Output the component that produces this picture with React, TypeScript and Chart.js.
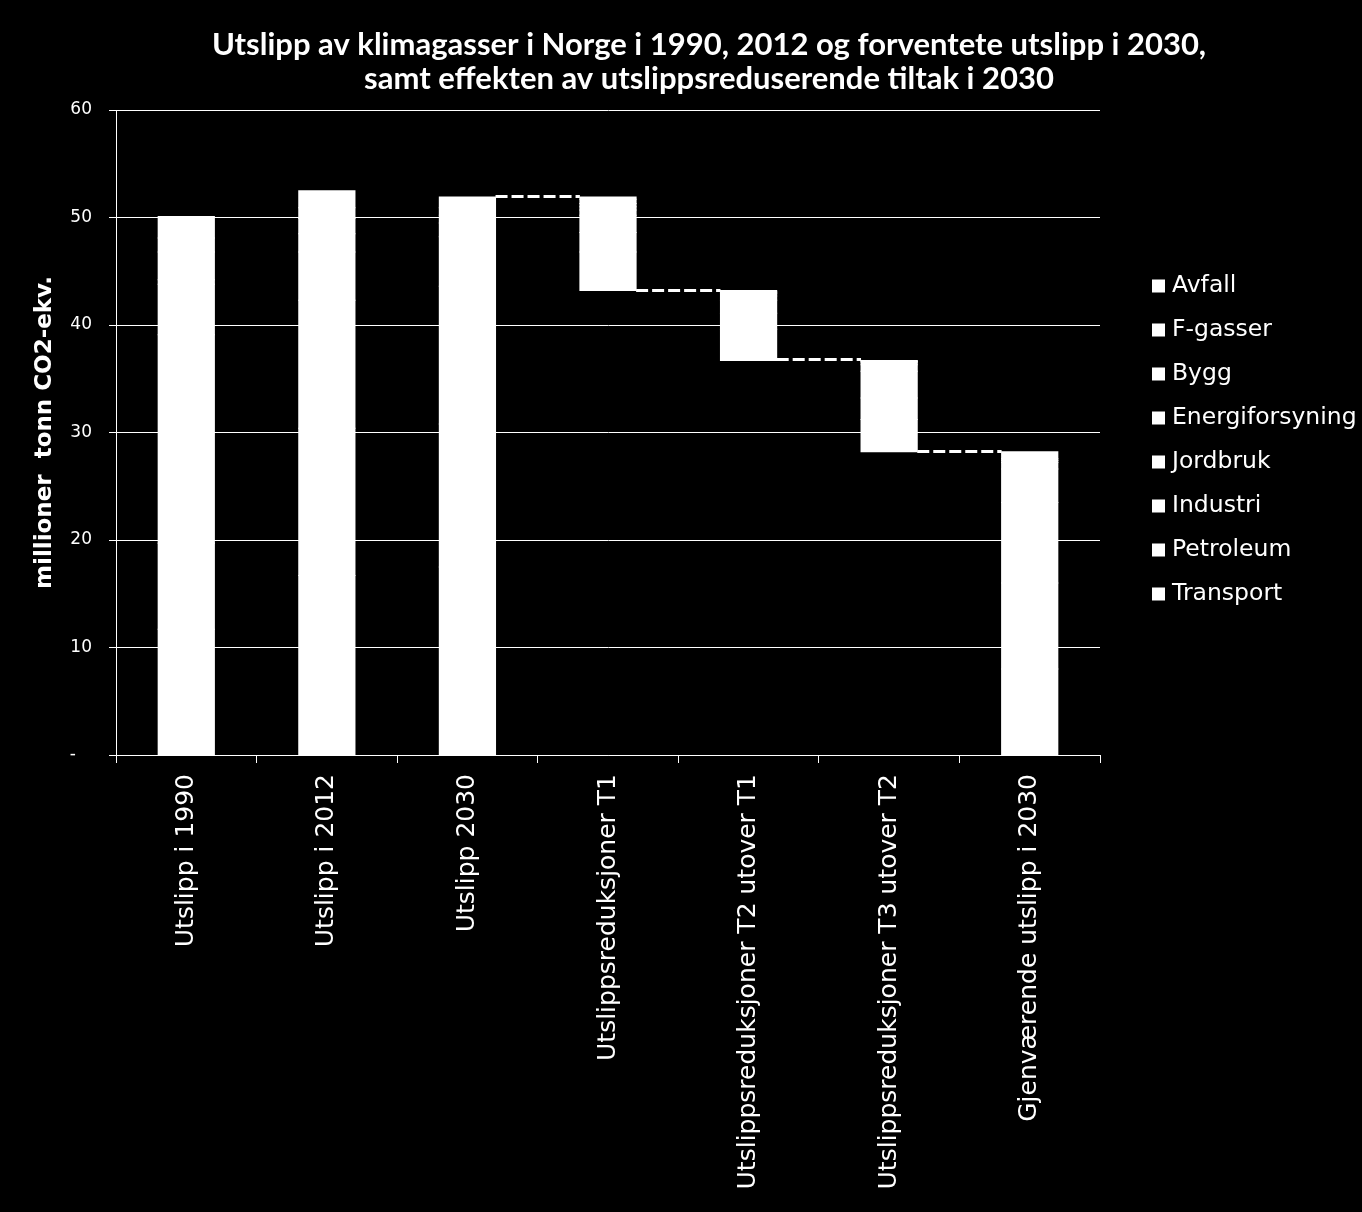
import React, { useEffect, useRef } from 'react';
import { Chart, registerables } from 'chart.js';

Chart.register(...registerables);

const titleLines = [
  'Utslipp av klimagasser i Norge i 1990, 2012 og forventete utslipp i 2030,',
  'samt effekten av utslippsreduserende tiltak i 2030',
];
const yAxisTitle = 'millioner  tonn CO2-ekv.';

const categories = [
  'Utslipp i 1990',
  'Utslipp i 2012',
  'Utslipp 2030',
  'Utslippsreduksjoner T1',
  'Utslippsreduksjoner T2 utover T1',
  'Utslippsreduksjoner T3 utover T2',
  'Gjenværende utslipp i 2030',
];

// invisible base for the floating waterfall steps
const baseValues = [0, 0, 0, 43.2, 36.7, 28.2, 0];

// sector series (stacked, bottom to top)
const transport = [11.7, 16.7, 17.5, 3.6, 2.9, 3.0, 8.0];
const petroleum = [8.0, 13.7, 13.3, 1.8, 1.5, 2.0, 8.0];
const industri = [19.4, 11.9, 12.8, 1.6, 1.2, 2.5, 7.5];
const jordbruk = [4.7, 4.5, 4.6, 0.5, 0.4, 0.6, 3.1];
const energiforsyning = [0.4, 1.7, 1.3, 0.3, 0.2, 0.2, 0.6];
const bygg = [2.6, 1.4, 0.7, 0.3, 0.1, 0.1, 0.2];
const fgasser = [1.3, 1.0, 0.7, 0.4, 0.1, 0.05, 0.15];
const avfall = [2.0, 1.6, 1.0, 0.2, 0.1, 0.05, 0.65];

const seriesLabels = ['Transport', 'Petroleum', 'Industri', 'Jordbruk', 'Energiforsyning', 'Bygg', 'F-gasser', 'Avfall'];
const seriesValues = [transport, petroleum, industri, jordbruk, energiforsyning, bygg, fgasser, avfall];

// dashed connector level from bar i to bar i+1
const connectorLevels: (number | null)[] = [null, null, 51.9, 43.2, 36.7, 28.2, null];

const yMin = 0;
const yMax = 60;
const yStep = 10;
const zeroTickLabel = '-   ';

const W = 1362;
const H = 1212;

export default function App() {
  const ref = useRef<HTMLCanvasElement | null>(null);

  useEffect(() => {
    if (!ref.current) return;
    Chart.defaults.font.family = "'DejaVu Sans', sans-serif";

    const bgPlugin = {
      id: 'bg',
      beforeDraw(chart: any) {
        const ctx = chart.ctx;
        ctx.save();
        ctx.fillStyle = '#000';
        ctx.fillRect(0, 0, chart.width, chart.height);
        ctx.restore();
      },
    };

    const connectorPlugin = {
      id: 'connectors',
      afterDatasetsDraw(chart: any) {
        const ctx = chart.ctx;
        const meta = chart.getDatasetMeta(0);
        const ys = chart.scales.y;
        ctx.save();
        ctx.strokeStyle = '#fff';
        ctx.lineWidth = 3;
        ctx.setLineDash([12, 4]);
        connectorLevels.forEach((lvl, i) => {
          if (lvl == null) return;
          const a: any = meta.data[i];
          const b: any = meta.data[i + 1];
          if (!a || !b) return;
          const x1 = a.x + a.width / 2;
          const x2 = b.x - b.width / 2;
          const py = Math.round(ys.getPixelForValue(lvl)) - 0.5;
          ctx.beginPath();
          ctx.moveTo(x1, py);
          ctx.lineTo(x2, py);
          ctx.stroke();
        });
        ctx.restore();
      },
    };

    const titlePlugin = {
      id: 'customTitle',
      afterDraw(chart: any) {
        const ctx = chart.ctx;
        ctx.save();
        ctx.fillStyle = '#fff';
        ctx.font = "bold 31px Lato, 'DejaVu Sans', sans-serif";
        ctx.textAlign = 'center';
        ctx.textBaseline = 'alphabetic';
        ctx.fillText(titleLines[0], 709, 55);
        ctx.fillText(titleLines[1], 709, 89);
        ctx.restore();
      },
    };

    const legendPlugin = {
      id: 'customLegend',
      afterDraw(chart: any) {
        const ctx = chart.ctx;
        const ds = chart.data.datasets.slice(1).reverse();
        ctx.save();
        ctx.font = "23.5px 'DejaVu Sans', sans-serif";
        ctx.textAlign = 'left';
        ctx.textBaseline = 'middle';
        ds.forEach((d: any, i: number) => {
          const cy = 286 + i * 44;
          ctx.fillStyle = d.backgroundColor;
          ctx.fillRect(1152, cy - 6.5, 13, 13);
          ctx.fillStyle = '#fff';
          ctx.fillText(d.label, 1172, cy);
        });
        ctx.restore();
      },
    };

    const datasets: any[] = [
      {
        label: 'base',
        data: baseValues,
        backgroundColor: 'rgba(0,0,0,0)',
        borderWidth: 0,
        stack: 's',
      },
      ...seriesLabels.map((lab, i) => ({
        label: lab,
        data: seriesValues[i],
        backgroundColor: '#ffffff',
        borderWidth: 0,
        inflateAmount: 0.5,
        stack: 's',
      })),
    ];

    const chart = new Chart(ref.current, {
      type: 'bar',
      data: { labels: categories, datasets },
      options: {
        responsive: false,
        animation: false,
        devicePixelRatio: 1,
        layout: { padding: { top: 110, right: 262, left: 0, bottom: 0 } },
        datasets: { bar: { categoryPercentage: 1, barPercentage: 0.4 } },
        plugins: {
          legend: { display: false },
          title: { display: false },
          tooltip: { enabled: false },
        },
        scales: {
          x: {
            stacked: true,
            grid: {
              display: true,
              drawOnChartArea: false,
              drawTicks: true,
              offset: true,
              tickLength: 8,
              color: '#ffffff',
            },
            border: { display: true, color: '#ffffff', width: 1 },
            ticks: {
              color: '#ffffff',
              font: { size: 25 },
              minRotation: 90,
              maxRotation: 90,
              autoSkip: false,
              padding: 11,
            },
            afterFit(scale: any) {
              scale.height = 457;
            },
          },
          y: {
            stacked: true,
            min: yMin,
            max: yMax,
            grid: {
              color: '#ffffff',
              lineWidth: 1,
              drawTicks: true,
              tickLength: 7,
            },
            border: { display: true, color: '#ffffff', width: 1 },
            ticks: {
              stepSize: yStep,
              color: '#ffffff',
              font: { size: 17 },
              padding: 17,
              callback: (v: any) => (Number(v) === 0 ? zeroTickLabel : String(v)),
            },
            title: {
              display: true,
              text: yAxisTitle,
              color: '#ffffff',
              font: { size: 23, weight: 'bold' },
              padding: { top: 31, bottom: 0 },
            },
            afterFit(scale: any) {
              scale.width = 116;
            },
          },
        },
      } as any,
      plugins: [bgPlugin, connectorPlugin, titlePlugin, legendPlugin],
    });

    return () => chart.destroy();
  }, []);

  return (
    <div style={{ position: 'fixed', left: 0, top: 0, width: W, height: H, background: '#000' }}>
      <canvas ref={ref} width={W} height={H} style={{ display: 'block' }} />
    </div>
  );
}
